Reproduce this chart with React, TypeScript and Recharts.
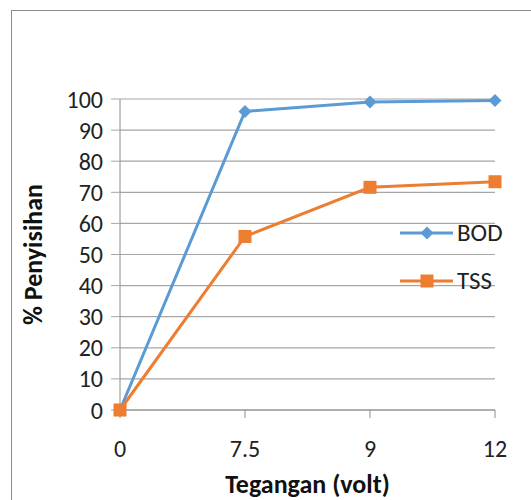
import React from 'react'
import { LineChart, Line, XAxis, YAxis, CartesianGrid } from 'recharts'

const voltages = ['0', '7.5', '9', '12']
const bodValues = [0, 96, 99, 99.5]
const tssValues = [0, 55.8, 71.6, 73.4]
const yTicks = [0, 10, 20, 30, 40, 50, 60, 70, 80, 90, 100]

const data = voltages.map((v, i) => ({ v, BOD: bodValues[i], TSS: tssValues[i] }))

const FONT = "Carlito, Calibri, 'Liberation Sans', Arial, sans-serif"
const BLUE = '#5b9bd5'
const ORANGE = '#ed7d31'

const Diamond = (props: any) => {
    const { cx, cy, fill } = props
    if (cx == null || cy == null) return null
    const r = 6.5
    return <path d={`M${cx},${cy - r}L${cx + r},${cy}L${cx},${cy + r}L${cx - r},${cy}Z`} fill={fill} />
}

const Square = (props: any) => {
    const { cx, cy, fill } = props
    if (cx == null || cy == null) return null
    const s = 13
    return <rect x={cx - s / 2} y={cy - s / 2} width={s} height={s} fill={fill} />
}

const legendItems = [
    { name: 'BOD', color: BLUE, diamond: true, y: 233 },
    { name: 'TSS', color: ORANGE, diamond: false, y: 281 },
]

const LegendBox = () => (
    <>
        {legendItems.map((it) => (
            <div key={it.name} style={{ position: 'absolute', left: 400, top: it.y - 15, height: 30, display: 'flex', alignItems: 'center', fontFamily: FONT, fontSize: 25, color: '#222' }}>
                <svg width={57} height={20} style={{ display: 'block' }}>
                    <line x1={0} y1={10} x2={53} y2={10} stroke={it.color} strokeWidth={3} />
                    {it.diamond ? (
                        <Diamond cx={27} cy={10} fill={it.color} />
                    ) : (
                        <Square cx={27} cy={10} fill={it.color} />
                    )}
                </svg>
                <span style={{ lineHeight: '30px' }}>{it.name}</span>
            </div>
        ))}
    </>
)

const YTitle = (props: any) => {
    const { viewBox } = props
    const cy = viewBox.y + viewBox.height / 2
    return (
        <text x={33} y={cy} transform={`rotate(-90, 33, ${cy})`} textAnchor="middle" dominantBaseline="central"
            style={{ fontFamily: FONT, fontSize: 26, fontWeight: 'bold', fill: '#111' }}>
            % Penyisihan
        </text>
    )
}

const XTitle = (props: any) => {
    const { viewBox } = props
    const cx = viewBox.x + viewBox.width / 2
    return (
        <text x={cx} y={484} textAnchor="middle" dominantBaseline="central"
            style={{ fontFamily: FONT, fontSize: 26, fontWeight: 'bold', fill: '#111' }}>
            Tegangan (volt)
        </text>
    )
}

export default function App() {
    return (
        <div style={{ position: 'absolute', left: 0, top: 0, width: 531, height: 500, background: '#fff', overflow: 'hidden' }}>
            <div style={{ position: 'absolute', left: 11, top: 10, width: 600, height: 600, borderLeft: '1.5px solid #8c8c8c', borderTop: '1.5px solid #8c8c8c' }} />
            <LineChart width={531} height={500} data={data} margin={{ top: 99, right: 36, bottom: 60, left: 0 }}>
                <CartesianGrid vertical={false} stroke="#a6a6a6" strokeWidth={1.2} />
                <XAxis
                    dataKey="v"
                    height={30}
                    padding={{ left: 0, right: 0 }}
                    tick={{ fontFamily: FONT, fontSize: 24, fill: '#222' }}
                    tickLine={{ stroke: '#8c8c8c' }}
                    axisLine={{ stroke: '#8c8c8c' }}
                    tickSize={8}
                    tickMargin={22}
                    label={<XTitle />}
                />
                <YAxis
                    width={120}
                    domain={[0, 100]}
                    ticks={yTicks}
                    interval={0}
                    tick={{ fontFamily: FONT, fontSize: 24, fill: '#222' }}
                    tickLine={{ stroke: '#a6a6a6' }}
                    axisLine={{ stroke: '#8c8c8c' }}
                    tickSize={9}
                    tickMargin={8}
                    label={<YTitle />}
                />
                <Line dataKey="BOD" stroke={BLUE} strokeWidth={3} dot={<Diamond fill={BLUE} />} activeDot={false} isAnimationActive={false} />
                <Line dataKey="TSS" stroke={ORANGE} strokeWidth={3} dot={<Square fill={ORANGE} />} activeDot={false} isAnimationActive={false} />
            </LineChart>
            <LegendBox />
        </div>
    )
}
